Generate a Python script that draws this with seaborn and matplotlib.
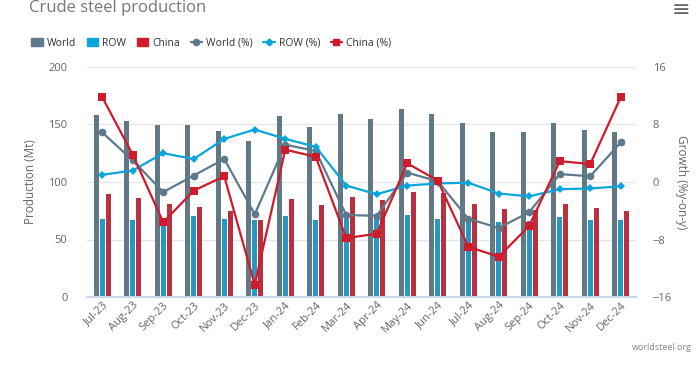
import numpy as np
import pandas as pd
import matplotlib.pyplot as plt
import seaborn as sns
from matplotlib.patches import Patch
from matplotlib.lines import Line2D

months = ['Jul-23', 'Aug-23', 'Sep-23', 'Oct-23', 'Nov-23', 'Dec-23',
          'Jan-24', 'Feb-24', 'Mar-24', 'Apr-24', 'May-24', 'Jun-24',
          'Jul-24', 'Aug-24', 'Sep-24', 'Oct-24', 'Nov-24', 'Dec-24']

world = [158.6, 153.3, 149.3, 149.3, 144.1, 135.4, 157.1, 147.8, 158.8,
         155.1, 163.8, 159.1, 151.3, 143.2, 143.2, 151.0, 145.5, 143.2]
row = [67.8, 67.2, 66.0, 70.4, 67.8, 67.0, 70.7, 67.2, 68.0,
       69.0, 71.3, 67.8, 65.8, 65.5, 66.0, 69.6, 67.2, 67.2]
china = [89.9, 86.1, 80.6, 78.3, 75.1, 67.2, 85.5, 80.0, 87.2,
         84.6, 91.6, 90.1, 81.2, 76.5, 75.9, 80.6, 77.7, 75.1]

world_pct = [6.9, 3.0, -1.4, 0.9, 3.2, -4.5, 5.2, 4.3, -4.6,
             -4.7, 1.3, 0.1, -5.1, -6.4, -4.2, 1.1, 0.8, 5.5]
row_pct = [1.0, 1.6, 4.0, 3.2, 6.0, 7.3, 6.0, 4.9, -0.5,
           -1.7, -0.5, -0.2, -0.1, -1.6, -2.0, -1.0, -0.9, -0.6]
china_pct = [11.8, 3.8, -5.6, -1.2, 0.8, -14.3, 4.5, 3.5, -7.8,
             -7.2, 2.6, 0.2, -9.0, -10.4, -6.1, 2.9, 2.5, 11.8]

c_world = '#5c7a8b'
c_row = '#0ba5de'
c_china = '#cf1b2c'
txt = '#666666'

sns.set_style('white')
plt.rcParams['font.family'] = ['Open Sans', 'DejaVu Sans']

df = pd.DataFrame({'Month': months * 3,
                   'Production': world + row + china,
                   'Series': ['World'] * 18 + ['ROW'] * 18 + ['China'] * 18})

fig = plt.figure(figsize=(7, 3.74), dpi=100)
ax = fig.add_axes([87 / 700, 1 - 297 / 374, (636 - 87) / 700, (297 - 67) / 374])

sns.barplot(data=df, x='Month', y='Production', hue='Series',
            hue_order=['World', 'ROW', 'China'],
            palette=[c_world, c_row, c_china],
            width=0.6, gap=0.14, linewidth=0, legend=False, ax=ax, zorder=2)

ax.set_xlim(-0.5, 17.5)
ax.set_ylim(0, 200)
ax.set_yticks([0, 50, 100, 150, 200])
ax.grid(axis='y', color='#e6e6e6', linewidth=1, zorder=0)
ax.set_axisbelow(True)
for s in ['top', 'right', 'left']:
    ax.spines[s].set_visible(False)
ax.spines['bottom'].set_color('#ccd6eb')
ax.spines['bottom'].set_linewidth(1.5)
ax.set_xlabel('')
ax.set_ylabel('Production (Mt)', color=txt, fontsize=8.5, labelpad=8)
ax.tick_params(axis='y', colors=txt, labelsize=8, length=0, pad=14)
ax.tick_params(axis='x', colors=txt, labelsize=8, length=0, pad=2)
plt.setp(ax.get_xticklabels(), rotation=45, ha='right', rotation_mode='anchor')

ax2 = ax.twinx()
pos = np.arange(len(months))
sns.lineplot(x=pos, y=world_pct, color=c_world, marker='o', markersize=5.5,
             markeredgewidth=0, linewidth=1.6, ax=ax2)
sns.lineplot(x=pos, y=row_pct, color=c_row, marker='D', markersize=4.2,
             markeredgewidth=0, linewidth=1.6, ax=ax2)
sns.lineplot(x=pos, y=china_pct, color=c_china, marker='s', markersize=6,
             markeredgewidth=0, linewidth=1.6, ax=ax2)
ax2.set_ylim(-16, 16)
ax2.set_yticks([-16, -8, 0, 8, 16])
for s in ['top', 'right', 'left', 'bottom']:
    ax2.spines[s].set_visible(False)
ax2.tick_params(axis='y', colors=txt, labelsize=8, length=0, pad=12)
ax2.set_ylabel('Growth (%y-on-y)', color=txt, fontsize=8.5, rotation=270,
               labelpad=12)
ax2.grid(False)

handles = [
    Patch(color=c_world, label='World'),
    Patch(color=c_row, label='ROW'),
    Patch(color=c_china, label='China'),
    Line2D([0], [0], color=c_world, marker='o', markersize=4.5, lw=1.6, label='World (%)'),
    Line2D([0], [0], color=c_row, marker='D', markersize=3.5, lw=1.6, label='ROW (%)'),
    Line2D([0], [0], color=c_china, marker='s', markersize=4.5, lw=1.6, label='China (%)'),
]
leg = fig.legend(handles=handles, loc='center left', bbox_to_anchor=(22 / 700, 1 - 43 / 374),
                 ncol=6, frameon=False, fontsize=7.5, handlelength=1.1, handleheight=0.9,
                 handletextpad=0.4, columnspacing=1.0)
for t in leg.get_texts():
    t.set_color('#333333')

fig.text(29 / 700, 1 - 8 / 374, 'Crude steel production', fontsize=12,
         color='#777777', va='center', ha='left')
fig.text(690 / 700, 1 - 10 / 374, '\u2261', fontsize=16, color='#666666',
         va='center', ha='right')
fig.text(692 / 700, 1 - 347 / 374, 'worldsteel.org', fontsize=6.5,
         color='#888888', va='center', ha='right')

fig.savefig('out.png', dpi=100)
